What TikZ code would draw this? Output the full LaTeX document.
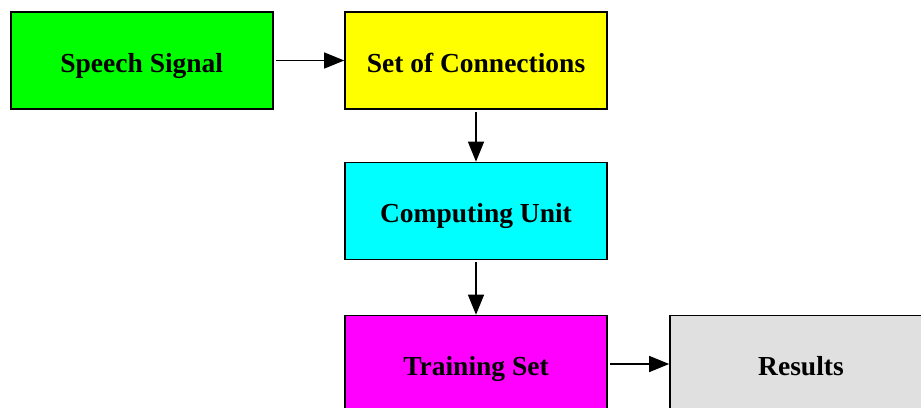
\documentclass[tikz,border=0pt]{standalone}
\usepackage{fontspec}
\setmainfont{Liberation Serif}
\usetikzlibrary{arrows.meta}
\definecolor{boxgreen}{RGB}{0,255,0}
\definecolor{boxyellow}{RGB}{255,255,0}
\definecolor{boxcyan}{RGB}{0,255,255}
\definecolor{boxmagenta}{RGB}{255,0,255}
\definecolor{boxgray}{RGB}{224,224,224}
\begin{document}
\begin{tikzpicture}[x=1pt,y=-1pt,
  box/.style={draw=black, line width=1.6pt, minimum width=262pt, minimum height=97pt,
    inner sep=0pt, text height=23pt, text depth=0pt,
    font=\fontsize{27.5}{32}\selectfont\bfseries},
  link/.style={line width=1.3pt, -{Triangle[length=20pt,width=16pt]}, shorten <=2pt}]
\useasboundingbox (0,0) rectangle (921,407);
% processing stages
\node[box, fill=boxgreen]   (speech)  at (141.75,60.5) {Speech Signal};
\node[box, fill=boxyellow]  (connect) at (476,60.5)    {Set of Connections};
\node[box, fill=boxcyan]    (compute) at (476,211)     {Computing Unit};
\node[box, fill=boxmagenta] (train)   at (476,364)     {Training Set};
\node[box, fill=boxgray]    (results) at (801,364)     {Results};
% flow between stages
\draw[link] (speech)  -- (connect);
\draw[link] (connect) -- (compute);
\draw[link] (compute) -- (train);
\draw[link] (train)   -- (results);
\end{tikzpicture}
\end{document}
